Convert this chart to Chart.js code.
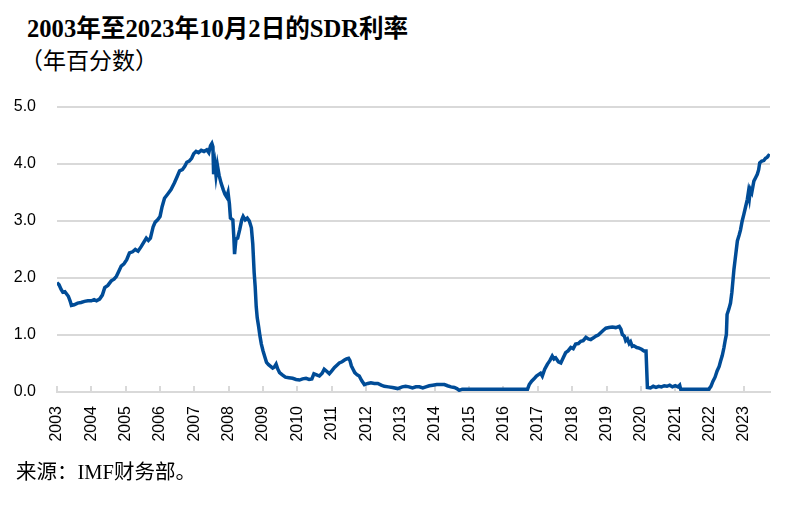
<!DOCTYPE html>
<html>
<head>
<meta charset="utf-8">
<script src="https://cdn.jsdelivr.net/npm/chart.js@4"></script>
<style>
    body { margin: 0; background: #fff; }
    #wrap { position: relative; width: 793px; height: 512px; overflow: hidden; }
    #chart { position: absolute; left: 0; top: 0; }
    .txt { position: absolute; white-space: nowrap; color: #000; line-height: 1;
           font-family: "Liberation Serif", "Noto Sans CJK SC", serif; }
    #title { left: 27px; top: 17px; font-size: 24.6px; font-weight: bold; }
    #subtitle { left: 20px; top: 50px; font-size: 23px; }
    #source { left: 16px; top: 462px; font-size: 20.5px; }
</style>
</head>
<body>
<div id="wrap">
    <div class="txt" id="title">2003年至2023年10月2日的SDR利率</div>
    <div class="txt" id="subtitle">（年百分数）</div>
    <canvas id="chart" width="793" height="512"></canvas>
    <div class="txt" id="source">来源：IMF财务部。</div>
</div>
<script>
// --- Data (decimal year, percent per annum) ---
const rateDates = [
    2003.00, 2003.06, 2003.12, 2003.17, 2003.23, 2003.28, 2003.33, 2003.38, 2003.42, 2003.50,
    2003.60, 2003.70, 2003.80, 2003.90, 2004.00, 2004.08, 2004.15, 2004.24, 2004.32, 2004.39,
    2004.48, 2004.58, 2004.66, 2004.73, 2004.80, 2004.87, 2004.95, 2005.03, 2005.11, 2005.20,
    2005.28, 2005.36, 2005.45, 2005.52, 2005.60, 2005.66, 2005.72, 2005.80, 2005.86, 2005.93,
    2006.00, 2006.06, 2006.13, 2006.22, 2006.32, 2006.42, 2006.50, 2006.57, 2006.65, 2006.72,
    2006.78, 2006.85, 2006.92, 2006.98, 2007.05, 2007.12, 2007.20, 2007.28, 2007.36, 2007.42,
    2007.47, 2007.51, 2007.54, 2007.56, 2007.60, 2007.63, 2007.67, 2007.72, 2007.78, 2007.84,
    2007.89, 2007.94, 2007.98, 2008.02, 2008.05, 2008.12, 2008.15, 2008.17, 2008.21, 2008.26,
    2008.32, 2008.38, 2008.42, 2008.48, 2008.54, 2008.60, 2008.66, 2008.70, 2008.74, 2008.77,
    2008.80, 2008.83, 2008.87, 2008.91, 2008.95, 2009.00, 2009.05, 2009.10, 2009.16, 2009.22,
    2009.28, 2009.33, 2009.38, 2009.43, 2009.48, 2009.56, 2009.65, 2009.75, 2009.86, 2009.96,
    2010.06, 2010.15, 2010.25, 2010.34, 2010.42, 2010.48, 2010.56, 2010.64, 2010.72, 2010.78,
    2010.86, 2010.93, 2011.00, 2011.08, 2011.15, 2011.22, 2011.30, 2011.37, 2011.43, 2011.49,
    2011.53, 2011.57, 2011.62, 2011.67, 2011.74, 2011.80, 2011.87, 2011.95, 2012.05, 2012.14,
    2012.24, 2012.34, 2012.44, 2012.53, 2012.65, 2012.77, 2012.92, 2013.05, 2013.15, 2013.25,
    2013.35, 2013.45, 2013.55, 2013.65, 2013.74, 2013.84, 2013.94, 2014.06, 2014.18, 2014.28,
    2014.37, 2014.47, 2014.57, 2014.64, 2014.71, 2014.80, 2015.20, 2015.60, 2016.00, 2016.40,
    2016.70, 2016.75, 2016.82, 2016.89, 2016.96, 2017.03, 2017.08, 2017.13, 2017.20, 2017.28,
    2017.35, 2017.42, 2017.47, 2017.52, 2017.60, 2017.67, 2017.74, 2017.81, 2017.88, 2017.96,
    2018.03, 2018.10, 2018.18, 2018.25, 2018.32, 2018.40, 2018.47, 2018.54, 2018.62, 2018.69,
    2018.76, 2018.83, 2018.90, 2018.98, 2019.07, 2019.17, 2019.27, 2019.37, 2019.42, 2019.46,
    2019.52, 2019.56, 2019.61, 2019.66, 2019.70, 2019.75, 2019.80, 2019.88, 2019.95, 2020.02,
    2020.09, 2020.15, 2020.19, 2020.28, 2020.36, 2020.44, 2020.52, 2020.60, 2020.68, 2020.76,
    2020.84, 2020.92, 2021.00, 2021.08, 2021.13, 2021.16, 2021.50, 2021.98, 2022.04, 2022.10,
    2022.16, 2022.22, 2022.28, 2022.32, 2022.37, 2022.42, 2022.46, 2022.49, 2022.51, 2022.56,
    2022.61, 2022.65, 2022.68, 2022.71, 2022.74, 2022.78, 2022.81, 2022.86, 2022.90, 2022.95,
    2023.00, 2023.05, 2023.10, 2023.13, 2023.16, 2023.19, 2023.23, 2023.29, 2023.34, 2023.39,
    2023.43, 2023.46, 2023.52, 2023.58, 2023.63, 2023.68, 2023.72, 2023.75
];
const rateValues = [
    1.92, 1.88, 1.80, 1.75, 1.76, 1.72, 1.68, 1.60, 1.52, 1.53,
    1.56, 1.57, 1.59, 1.60, 1.60, 1.62, 1.60, 1.63, 1.70, 1.83,
    1.87, 1.95, 1.98, 2.03, 2.12, 2.21, 2.25, 2.32, 2.44, 2.46,
    2.50, 2.47, 2.55, 2.62, 2.70, 2.66, 2.70, 2.90, 2.98, 3.02,
    3.08, 3.25, 3.40, 3.47, 3.55, 3.67, 3.78, 3.88, 3.90, 3.96,
    4.03, 4.05, 4.10, 4.18, 4.22, 4.20, 4.24, 4.22, 4.25, 4.20,
    4.32, 4.36, 4.30, 3.82, 3.98, 3.80, 3.98, 3.80, 3.66, 3.55,
    3.47, 3.42, 3.50, 3.30, 3.05, 3.02, 2.70, 2.42, 2.68, 2.70,
    2.85, 3.02, 3.08, 3.02, 3.05, 3.00, 2.88, 2.60, 2.10, 1.85,
    1.50, 1.30, 1.15, 0.98, 0.84, 0.72, 0.62, 0.52, 0.48, 0.45,
    0.42, 0.44, 0.49, 0.40, 0.34, 0.30, 0.26, 0.25, 0.24, 0.22,
    0.21, 0.23, 0.24, 0.22, 0.23, 0.32, 0.30, 0.28, 0.33, 0.40,
    0.36, 0.32, 0.37, 0.43, 0.47, 0.51, 0.53, 0.56, 0.58, 0.59,
    0.55, 0.46, 0.40, 0.34, 0.30, 0.28, 0.20, 0.13, 0.15, 0.16,
    0.15, 0.15, 0.12, 0.10, 0.09, 0.08, 0.06, 0.09, 0.10, 0.09,
    0.07, 0.09, 0.09, 0.07, 0.09, 0.11, 0.12, 0.13, 0.13, 0.13,
    0.11, 0.09, 0.08, 0.06, 0.03, 0.05, 0.05, 0.05, 0.05, 0.05,
    0.05, 0.13, 0.19, 0.23, 0.28, 0.31, 0.33, 0.28, 0.40, 0.49,
    0.55, 0.63, 0.58, 0.60, 0.53, 0.51, 0.60, 0.69, 0.72, 0.78,
    0.76, 0.84, 0.85, 0.89, 0.90, 0.96, 0.93, 0.92, 0.95, 0.98,
    1.00, 1.04, 1.08, 1.12, 1.13, 1.14, 1.13, 1.15, 1.10, 1.01,
    0.98, 0.90, 0.93, 0.85, 0.88, 0.80, 0.81, 0.78, 0.77, 0.75,
    0.72, 0.72, 0.08, 0.07, 0.10, 0.08, 0.10, 0.09, 0.11, 0.10,
    0.12, 0.09, 0.11, 0.09, 0.12, 0.05, 0.05, 0.05, 0.10, 0.19,
    0.26, 0.37, 0.45, 0.54, 0.64, 0.78, 0.92, 1.01, 1.36, 1.45,
    1.56, 1.75, 1.95, 2.15, 2.30, 2.50, 2.65, 2.75, 2.84, 3.00,
    3.12, 3.25, 3.38, 3.50, 3.40, 3.55, 3.50, 3.70, 3.76, 3.82,
    3.90, 4.02, 4.05, 4.06, 4.10, 4.12, 4.15, 4.14
];
const firstYear = 2003;
const lastYear = 2023;
const yTicks = [0, 1, 2, 3, 4, 5];

// --- Chart ---
const gridGrey = '#d9d9d9';
const tickFont = { family: '"Liberation Sans", Arial, sans-serif', size: 16 };

new Chart(document.getElementById('chart').getContext('2d'), {
    type: 'line',
    data: {
        datasets: [{
            data: rateDates.map((d, i) => ({ x: d, y: rateValues[i] })),
            borderColor: '#004c97',
            borderWidth: 3.5,
            pointRadius: 0,
            tension: 0,
            fill: false
        }]
    },
    options: {
        responsive: false,
        animation: false,
        layout: { padding: { top: 107, right: 23, left: 0, bottom: 0 } },
        plugins: {
            legend: { display: false },
            tooltip: { enabled: false }
        },
        scales: {
            x: {
                type: 'linear',
                min: firstYear,
                max: 2023.76,
                afterFit: scale => { scale.height = 120; },
                grid: {
                    drawOnChartArea: false,
                    drawTicks: true,
                    tickLength: -6,
                    color: gridGrey,
                    lineWidth: 2
                },
                border: { display: true, color: gridGrey, width: 2 },
                ticks: {
                    stepSize: 1,
                    includeBounds: false,
                    autoSkip: false,
                    maxRotation: 90,
                    minRotation: 90,
                    padding: 20,
                    color: '#000',
                    font: tickFont,
                    callback: v => (v >= firstYear && v <= lastYear) ? String(v) : ''
                }
            },
            y: {
                min: yTicks[0],
                max: yTicks[yTicks.length - 1],
                afterFit: scale => { scale.width = 57; },
                afterBuildTicks: scale => { scale.ticks = yTicks.map(v => ({ value: v })); },
                grid: { color: gridGrey, lineWidth: 2, drawTicks: false },
                border: { display: false },
                ticks: {
                    padding: 21,
                    color: '#000',
                    font: tickFont,
                    callback: v => v.toFixed(1)
                }
            }
        }
    }
});
</script>
</body>
</html>
